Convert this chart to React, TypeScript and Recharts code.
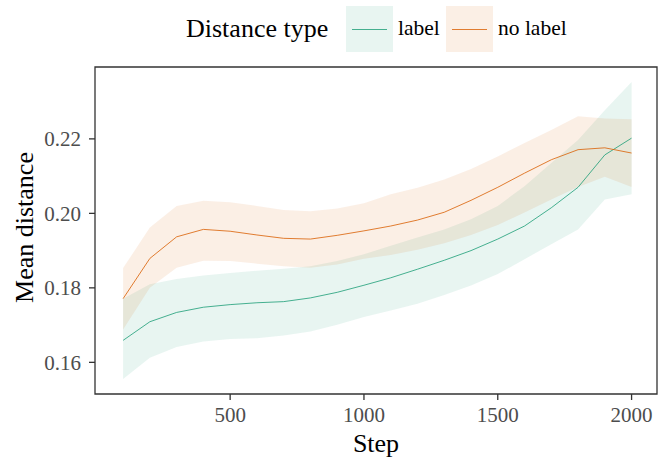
import React from 'react';
import {
  ComposedChart,
  Area,
  Line,
  XAxis,
  YAxis,
  ReferenceArea,
} from 'recharts';

// Steps along the x axis
const steps = [100, 200, 300, 400, 500, 600, 700, 800, 900, 1000, 1100, 1200, 1300, 1400, 1500, 1600, 1700, 1800, 1900, 2000];

// "label" series: mean and ribbon bounds
const labelMean = [0.1659, 0.1709, 0.1734, 0.1748, 0.1755, 0.176, 0.1763, 0.1773, 0.1788, 0.1807, 0.1827, 0.185, 0.1874, 0.19, 0.1931, 0.1966, 0.2015, 0.207, 0.2157, 0.2202];
const labelLow = [0.1555, 0.1612, 0.1641, 0.1656, 0.1663, 0.1665, 0.1672, 0.1683, 0.1701, 0.1722, 0.1739, 0.1757, 0.1781, 0.1806, 0.1837, 0.1877, 0.1917, 0.1957, 0.2037, 0.2051];
const labelHigh = [0.1771, 0.181, 0.1824, 0.1833, 0.184, 0.1846, 0.1851, 0.1858, 0.1872, 0.189, 0.1913, 0.1935, 0.1957, 0.1984, 0.202, 0.2073, 0.2135, 0.2197, 0.2277, 0.2353];

// "no label" series: mean and ribbon bounds
const noLabelMean = [0.1771, 0.1879, 0.1937, 0.1957, 0.1952, 0.1942, 0.1933, 0.1931, 0.1941, 0.1953, 0.1966, 0.1982, 0.2003, 0.2035, 0.207, 0.2108, 0.2144, 0.2171, 0.2176, 0.2162];
const noLabelLow = [0.1688, 0.18, 0.1854, 0.1873, 0.1872, 0.1865, 0.1858, 0.1854, 0.1863, 0.1878, 0.1888, 0.1902, 0.192, 0.1942, 0.1969, 0.2002, 0.2037, 0.2071, 0.2098, 0.2071];
const noLabelHigh = [0.1853, 0.1962, 0.202, 0.2034, 0.203, 0.202, 0.2009, 0.2006, 0.2013, 0.2027, 0.2051, 0.2069, 0.2091, 0.2119, 0.2153, 0.2189, 0.2224, 0.2261, 0.2255, 0.2253];

const xTicks = [500, 1000, 1500, 2000];
const yTicks = [0.16, 0.18, 0.2, 0.22];
const seriesNames = ['label', 'no label'];

const GREEN = '#1B9E77';
const ORANGE = '#D95F02';
const RIBBON_OPACITY = 0.1;
const FONT = '"Liberation Serif", "DejaVu Serif", serif';

const X_DOMAIN: [number, number] = [-5, 2095];
const Y_DOMAIN: [number, number] = [0.1515, 0.2393];

const data = steps.map((step, i) => ({
  step,
  labelMean: labelMean[i],
  labelRange: [labelLow[i], labelHigh[i]],
  noLabelMean: noLabelMean[i],
  noLabelRange: [noLabelLow[i], noLabelHigh[i]],
}));

// legend drawn on top of the chart, ggplot style (title + key boxes)
function LegendBox() {
  const colors = [GREEN, ORANGE];
  const fills = ['rgba(27,158,119,0.1)', 'rgba(217,95,2,0.1)'];
  const boxLeft = [346, 446];
  const textLeft = [398, 498];
  return (
    <div style={{ position: 'absolute', left: 0, top: 0, width: 661, height: 60, fontFamily: FONT }}>
      <span style={{ position: 'absolute', left: 186, top: 29, transform: 'translateY(-50%)', fontSize: 26, lineHeight: 1, color: '#000', whiteSpace: 'nowrap' }}>
        Distance type
      </span>
      {seriesNames.map((name, i) => (
        <React.Fragment key={name}>
          <div style={{ position: 'absolute', left: boxLeft[i], top: 6, width: 47, height: 46, background: fills[i] }}>
            <div style={{ position: 'absolute', left: 6, right: 6, top: 23, height: 1, background: colors[i], opacity: 0.8 }} />
          </div>
          <span style={{ position: 'absolute', left: textLeft[i], top: 29, transform: 'translateY(-50%)', fontSize: 21.5, lineHeight: 1, color: '#000', whiteSpace: 'nowrap' }}>
            {name}
          </span>
        </React.Fragment>
      ))}
    </div>
  );
}

export default function App() {
  return (
    <div style={{ position: 'absolute', left: 0, top: 0, width: 661, height: 457, background: '#fff' }}>
      <ComposedChart
        width={661}
        height={457}
        data={data}
        margin={{ top: 67, right: 4, bottom: 0, left: 0 }}
      >
        <XAxis
          dataKey="step"
          type="number"
          domain={X_DOMAIN}
          ticks={xTicks}
          allowDataOverflow
          height={63}
          axisLine={false}
          tickLine={{ stroke: '#333', strokeWidth: 1.3 }}
          tickSize={6}
          tickMargin={7}
          tick={{ fontSize: 21, fill: '#4d4d4d', fontFamily: FONT }}
          label={{ value: 'Step', position: 'insideBottom', offset: 5, fontSize: 26, fill: '#000', fontFamily: FONT }}
        />
        <YAxis
          type="number"
          domain={Y_DOMAIN}
          ticks={yTicks}
          allowDataOverflow
          width={95}
          axisLine={false}
          tickLine={{ stroke: '#333', strokeWidth: 1.3 }}
          tickSize={6}
          tickMargin={8}
          tickFormatter={(v: number) => v.toFixed(2)}
          tick={{ fontSize: 21, fill: '#4d4d4d', fontFamily: FONT }}
          label={{ value: 'Mean distance', angle: -90, position: 'center', dx: -24, dy: -3, fontSize: 26, fill: '#000', fontFamily: FONT }}
        />
        <Area
          type="linear"
          dataKey="labelRange"
          stroke="none"
          fill={GREEN}
          fillOpacity={RIBBON_OPACITY}
          legendType="none"
          isAnimationActive={false}
        />
        <Area
          type="linear"
          dataKey="noLabelRange"
          stroke="none"
          fill={ORANGE}
          fillOpacity={RIBBON_OPACITY}
          legendType="none"
          isAnimationActive={false}
        />
        <Line type="linear" dataKey="labelMean" stroke={GREEN} strokeOpacity={0.8} strokeWidth={1} dot={false} isAnimationActive={false} />
        <Line type="linear" dataKey="noLabelMean" stroke={ORANGE} strokeOpacity={0.8} strokeWidth={1} dot={false} isAnimationActive={false} />
        <ReferenceArea
          x1={X_DOMAIN[0]}
          x2={X_DOMAIN[1]}
          y1={Y_DOMAIN[0]}
          y2={Y_DOMAIN[1]}
          fill="none"
          stroke="#333"
          strokeWidth={1.3}
          ifOverflow="visible"
        />
      </ComposedChart>
      <LegendBox />
    </div>
  );
}
